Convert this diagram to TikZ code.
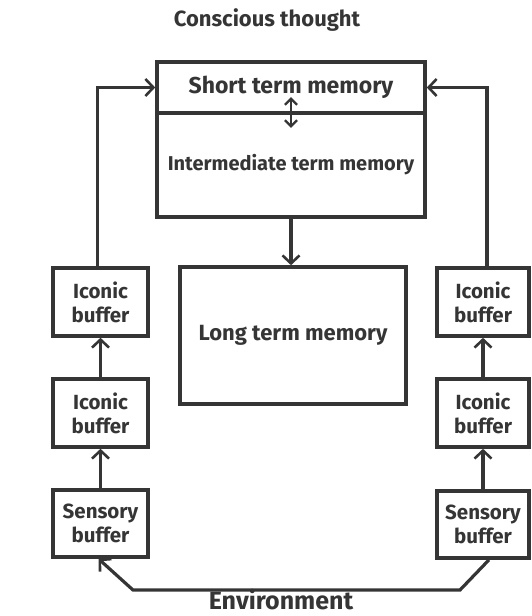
\documentclass[tikz,border=0pt]{standalone}
\usepackage{fontspec}
\setmainfont{Fira Sans}
\usetikzlibrary{arrows.meta}
\definecolor{ink}{HTML}{353535}
\begin{document}
\begin{tikzpicture}[x=1pt,y=-1pt,
  box/.style={draw=ink, line width=3.6pt, inner sep=0pt, align=center, text=ink},
  bigA/.style={font=\bfseries\fontsize{23}{24}\selectfont},
  bigB/.style={font=\bfseries\fontsize{20}{24}\selectfont},
  bigC/.style={font=\bfseries\fontsize{22}{24}\selectfont},
  small/.style={font=\bfseries\fontsize{20.5}{24}\selectfont},
  label/.style={text=ink, font=\bfseries\fontsize{22}{24}\selectfont},
  tip/.style={-{Straight Barb[length=8pt,width=17pt,line width=2.6pt]}},
  link/.style={draw=ink, line width=3.2pt},
]
\useasboundingbox (0,0) rectangle (531,616);
% titles
\node[label] (ct) at (267,20) {Conscious thought};
\node[label, font=\bfseries\fontsize{25}{26}\selectfont] (env) at (281,600) {Environment};
% central boxes
\node[box, bigA, minimum width=268pt, minimum height=51pt] (stm) at (291,87.5) {Short term memory};
\node[box, bigB, minimum width=268pt, minimum height=104pt] (itm) at (291,165) {Intermediate term memory};
\node[box, bigC, minimum width=226pt, minimum height=137pt] (ltm) at (293,335.5) {\raisebox{6pt}{Long term memory}};
% left column
\node[box, small, minimum width=95pt, minimum height=68pt] (li1) at (100.5,302) {Iconic\\buffer};
\node[box, small, minimum width=95pt, minimum height=68pt] (li2) at (100.5,413) {Iconic\\buffer};
\node[box, small, minimum width=95pt, minimum height=67pt] (ls) at (100.5,523.5) {Sensory\\buffer};
% right column
\node[box, small, minimum width=92pt, minimum height=68pt] (ri1) at (483,302) {Iconic\\buffer};
\node[box, small, minimum width=92pt, minimum height=68pt] (ri2) at (483,413) {Iconic\\buffer};
\node[box, small, minimum width=92pt, minimum height=67pt] (rs) at (483,524.5) {Sensory\\buffer};
% connectors
\draw[link, tip] (itm.south) -- (itm.south |- ltm.north);
\draw[link, line width=2.6pt, {Straight Barb[length=6pt,width=12pt,line width=2.2pt]}-{Straight Barb[length=6pt,width=12pt,line width=2.2pt]}] ([yshift=-13pt]stm.south) -- ([yshift=14pt]itm.north);
\draw[link, tip] (ls.north) -- (li2.south);
\draw[link, tip] (li2.north) -- (li1.south);
\draw[link, tip] ([xshift=-3pt]li1.north) |- (stm.west);
\draw[link, tip] (rs.north) -- (ri2.south);
\draw[link, tip] (ri2.north) -- (ri1.south);
\draw[link, tip] ([xshift=4pt]ri1.north) |- (stm.east);
\coordinate (e1) at (133,590);
\coordinate (e2) at (460,590);
\draw[link, tip, {Straight Barb[length=8pt,width=17pt,line width=2.6pt]}-] ([xshift=-2pt]ls.south) -- (e1) -- (e2) -- ([xshift=6pt]rs.south);
\end{tikzpicture}
\end{document}
